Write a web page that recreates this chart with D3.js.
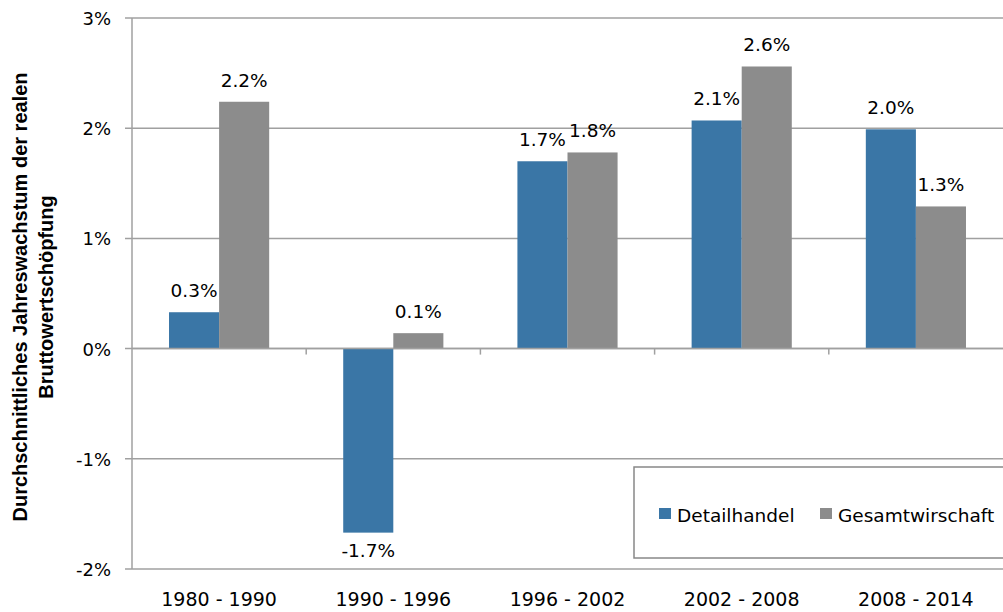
<!DOCTYPE html>
<html>
<head>
<meta charset="utf-8">
<script src="https://cdn.jsdelivr.net/npm/d3@7"></script>
<style>
  body { margin: 0; background: #fff; }
  svg text { font-family: "DejaVu Sans", sans-serif; fill: #000; }
</style>
</head>
<body>
<div id="chart"></div>
<script>
const categories = ["1980 - 1990", "1990 - 1996", "1996 - 2002", "2002 - 2008", "2008 - 2014"];
const seriesNames = ["Detailhandel", "Gesamtwirschaft"];
const detailhandel = [0.33, -1.67, 1.70, 2.07, 1.99];
const gesamtwirtschaft = [2.24, 0.14, 1.78, 2.56, 1.29];
const yTicks = [-2, -1, 0, 1, 2, 3];
const colors = ["#3A76A6", "#8C8C8C"];

const width = 1003, height = 612;
const margin = {top: 18, right: 0, bottom: 43, left: 132};

const svg = d3.select("#chart").append("svg")
    .attr("width", width)
    .attr("height", height);

const x = d3.scaleBand()
    .domain(categories)
    .range([margin.left, width - margin.right])
    .paddingInner(0.425)
    .paddingOuter(0.2125);

const x0 = d3.scaleBand()
    .domain(categories)
    .range([margin.left, width - margin.right]);

const xs = d3.scaleBand()
    .domain(seriesNames)
    .range([0, x.bandwidth()]);

const y = d3.scaleLinear()
    .domain([-2, 3])
    .range([height - margin.bottom, margin.top]);

// gridlines
svg.append("g")
    .selectAll("line")
    .data(yTicks)
    .enter().append("line")
    .attr("x1", margin.left - 7)
    .attr("x2", width)
    .attr("y1", d => y(d))
    .attr("y2", d => y(d))
    .attr("stroke", "#a0a0a0")
    .attr("stroke-width", 1.5);

// y tick labels
svg.append("g")
    .selectAll("text")
    .data(yTicks)
    .enter().append("text")
    .attr("x", 111)
    .attr("y", d => y(d) + 7)
    .attr("text-anchor", "end")
    .attr("font-size", 18)
    .text(d => d + "%");

const data = categories.map((c, i) => ({
    cat: c,
    vals: [
        {name: seriesNames[0], v: detailhandel[i], color: colors[0]},
        {name: seriesNames[1], v: gesamtwirtschaft[i], color: colors[1]}
    ]
}));

const groups = svg.append("g")
    .selectAll("g")
    .data(data)
    .enter().append("g")
    .attr("transform", d => `translate(${x(d.cat)},0)`);

groups.selectAll("rect")
    .data(d => d.vals)
    .enter().append("rect")
    .attr("x", d => xs(d.name))
    .attr("width", xs.bandwidth())
    .attr("y", d => y(Math.max(0, d.v)))
    .attr("height", d => Math.abs(y(d.v) - y(0)))
    .attr("fill", d => d.color);

const fmt = v => d3.format(".1f")(v).replace("\u2212", "-");
groups.selectAll("text")
    .data(d => d.vals)
    .enter().append("text")
    .attr("x", d => xs(d.name) + xs.bandwidth() / 2)
    .attr("y", d => d.v >= 0 ? y(d.v) - 15 : y(d.v) + 24)
    .attr("text-anchor", "middle")
    .attr("font-size", 18.5)
    .text(d => fmt(d.v) + "%");

// zero axis line and category ticks
svg.append("line")
    .attr("x1", margin.left).attr("x2", width)
    .attr("y1", y(0)).attr("y2", y(0))
    .attr("stroke", "#a0a0a0").attr("stroke-width", 1.5);

svg.append("g")
    .selectAll("line")
    .data(categories.slice(1))
    .enter().append("line")
    .attr("x1", d => x0(d)).attr("x2", d => x0(d))
    .attr("y1", y(0)).attr("y2", y(0) + 6)
    .attr("stroke", "#a0a0a0").attr("stroke-width", 1.5);

// y axis line
svg.append("line")
    .attr("x1", margin.left).attr("x2", margin.left)
    .attr("y1", y(3)).attr("y2", y(-2))
    .attr("stroke", "#a0a0a0").attr("stroke-width", 1.5);

// x labels
svg.append("g")
    .selectAll("text")
    .data(categories)
    .enter().append("text")
    .attr("x", d => x0(d) + x0.bandwidth() / 2)
    .attr("y", 606)
    .attr("text-anchor", "middle")
    .attr("font-size", 19)
    .text(d => d);

// y axis title
const title = svg.append("text")
    .attr("transform", "translate(27,297) rotate(-90)")
    .attr("text-anchor", "middle")
    .attr("font-size", 20)
    .attr("font-weight", "bold")
    .style("font-family", "'Liberation Sans', Arial, sans-serif");
title.append("tspan").attr("x", 0).attr("dy", 0).text("Durchschnittliches Jahreswachstum der realen");
title.append("tspan").attr("x", 0).attr("dy", 26).text("Bruttowertschöpfung");

// legend
const legend = svg.append("g");
legend.append("rect")
    .attr("x", 634).attr("y", 467)
    .attr("width", 400).attr("height", 91)
    .attr("fill", "#fff")
    .attr("stroke", "#888").attr("stroke-width", 1.5);

const legendX = [659, 820];
seriesNames.forEach((n, i) => {
    legend.append("rect")
        .attr("x", legendX[i]).attr("y", 508)
        .attr("width", 12).attr("height", 11)
        .attr("fill", colors[i]);
    legend.append("text")
        .attr("x", legendX[i] + 18).attr("y", 522)
        .attr("font-size", 18.5)
        .text(n);
});
</script>
</body>
</html>
